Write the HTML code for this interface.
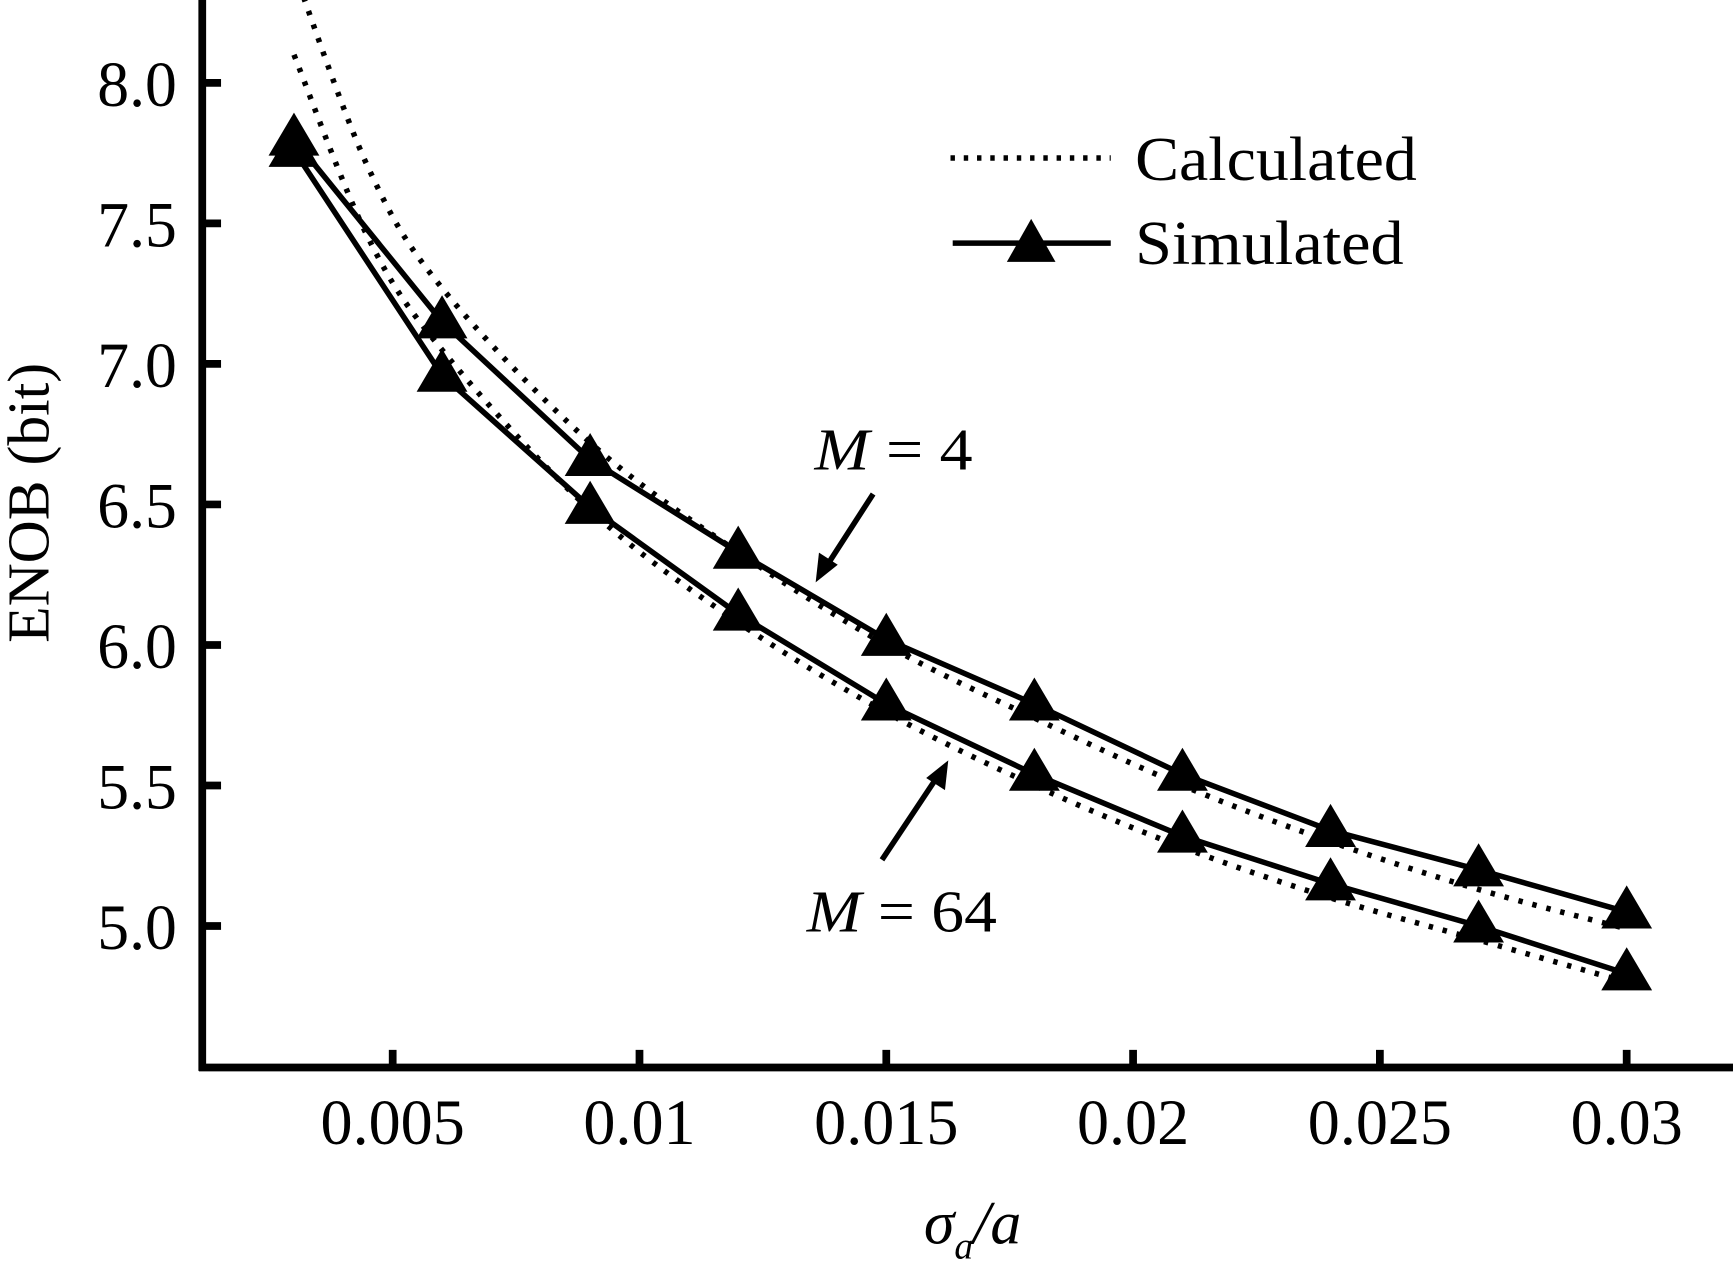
<!DOCTYPE html>
<html><head><meta charset="utf-8"><style>
html,body{margin:0;padding:0;background:#fff;}
svg{display:block;}
text{font-family:"Liberation Serif",serif;fill:#000;}
</style></head><body>
<svg id="chart" width="1733" height="1272" viewBox="0 0 1568 1151" preserveAspectRatio="none">
<defs><clipPath id="plotclip"><rect x="186" y="0" width="1382" height="964"/></clipPath></defs>
<g id="axes"></g>
<g id="series" clip-path="url(#plotclip)"></g>
<g id="legend">
  <line x1="860" y1="143" x2="1005" y2="143" stroke="#000" stroke-width="5" stroke-dasharray="4 8"/>
  <text x="1027" y="163" font-size="57" textLength="255" lengthAdjust="spacingAndGlyphs">Calculated</text>
  <line x1="862" y1="220" x2="1005" y2="220" stroke="#000" stroke-width="5"/>
  <polygon points="933,198 955,237 911,237" fill="#000"/>
  <text x="1027" y="239" font-size="57" textLength="243" lengthAdjust="spacingAndGlyphs">Simulated</text>
</g>
<g>
  <text x="737" y="425" font-size="54" textLength="143" lengthAdjust="spacingAndGlyphs"><tspan font-style="italic">M</tspan> = 4</text>
  <line x1="790" y1="447" x2="748" y2="512" stroke="#000" stroke-width="5"/>
  <polygon points="738,527 741,500 758,511" fill="#000"/>
</g>
<g>
  <text x="730" y="843" font-size="54" textLength="172" lengthAdjust="spacingAndGlyphs"><tspan font-style="italic">M</tspan> = 64</text>
  <line x1="798" y1="778" x2="848" y2="703" stroke="#000" stroke-width="5"/>
  <polygon points="858,688 855,715 838,704" fill="#000"/>
</g>
<text transform="translate(44,455) rotate(-90)" text-anchor="middle" font-size="54">ENOB (bit)</text>
<text x="880" y="1125" text-anchor="middle" font-size="56" font-style="italic">σ<tspan font-size="34" dy="14">a</tspan><tspan dy="-14">/a</tspan></text>
</svg>
<script>
const xValues = [0.003,0.006,0.009,0.012,0.015,0.018,0.021,0.024,0.027,0.03];
const simM4 = [7.80,7.15,6.66,6.33,6.02,5.79,5.54,5.34,5.20,5.05];
const simM64 = [7.76,6.96,6.49,6.11,5.79,5.54,5.32,5.15,5.00,4.83];
const calcX = [0.003,0.0045,0.006,0.009,0.012,0.015,0.018,0.021,0.024,0.027,0.03];
const calcM4 = [8.40,7.70,7.27,6.72,6.33,6.00,5.74,5.50,5.30,5.13,4.99];
const calcM64 = [8.10,7.45,7.05,6.48,6.08,5.76,5.50,5.28,5.10,4.95,4.80];
const xTicks = [0.005,0.01,0.015,0.02,0.025,0.03];
const xTickLabels = ["0.005","0.01","0.015","0.02","0.025","0.03"];
const yTicks = [5.0,5.5,6.0,6.5,7.0,7.5,8.0];
const yTickLabels = ["5.0","5.5","6.0","6.5","7.0","7.5","8.0"];

const NS="http://www.w3.org/2000/svg";
function xs(v){return 132+v/0.005*223.3;}
function ys(v){return 75+(8-v)*254.3;}
function mk(tag,attrs,parent){const e=document.createElementNS(NS,tag);for(const k in attrs)e.setAttribute(k,attrs[k]);parent.appendChild(e);return e;}
const axes=document.getElementById('axes');
const ser=document.getElementById('series');

let yl=mk('line',{x1:183,y1:0,x2:183,y2:969,stroke:'#000','stroke-width':7},axes);


let xl=mk('line',{x1:180,y1:966,x2:1568,y2:966,stroke:'#000','stroke-width':7},axes);


yTicks.forEach((v,i)=>{
  const t=mk('line',{x1:183,y1:ys(v),x2:200,y2:ys(v),stroke:'#000','stroke-width':7},axes);
  
  
  const l=mk('text',{x:160,y:ys(v)+21,'text-anchor':'end','font-size':58,textLength:72,lengthAdjust:'spacingAndGlyphs'},axes);
  l.textContent=yTickLabels[i];
  
  
});
xTicks.forEach((v,i)=>{
  const t=mk('line',{x1:xs(v),y1:966,x2:xs(v),y2:950,stroke:'#000','stroke-width':7},axes);
  
  
  const l=mk('text',{x:xs(v),y:1035,'text-anchor':'middle','font-size':58},axes);
  l.textContent=xTickLabels[i];
  
  
});
function smoothPath(xa,ya){
  const p=xa.map((x,i)=>[xs(x),ys(ya[i])]);
  let d='M'+p[0][0]+','+p[0][1];
  for(let i=0;i<p.length-1;i++){
    const p0=p[Math.max(0,i-1)],p1=p[i],p2=p[i+1],p3=p[Math.min(p.length-1,i+2)];
    const c1=[p1[0]+(p2[0]-p0[0])/6,p1[1]+(p2[1]-p0[1])/6];
    const c2=[p2[0]-(p3[0]-p1[0])/6,p2[1]-(p3[1]-p1[1])/6];
    d+=' C'+c1[0]+','+c1[1]+' '+c2[0]+','+c2[1]+' '+p2[0]+','+p2[1];
  }
  return d;
}
[[calcM4,'calculated-m4-line'],[calcM64,'calculated-m64-line']].forEach(([arr,name])=>{
  const e=mk('path',{d:smoothPath(calcX,arr),fill:'none',stroke:'#000','stroke-width':5,'stroke-dasharray':'4 9'},ser);
  
  
});
[[simM4,'simulated-m4'],[simM64,'simulated-m64']].forEach(([arr,name])=>{
  const pts=xValues.map((x,i)=>xs(x)+','+ys(arr[i])).join(' ');
  const e=mk('polyline',{points:pts,fill:'none',stroke:'#000','stroke-width':5},ser);
  
  
  xValues.forEach((x,i)=>{
    const cx=xs(x),cy=ys(arr[i]);
    const t=mk('polygon',{points:`${cx},${cy-24} ${cx+23},${cy+15} ${cx-23},${cy+15}`,fill:'#000'},ser);
    
    
  });
});
</script>
</body></html>
